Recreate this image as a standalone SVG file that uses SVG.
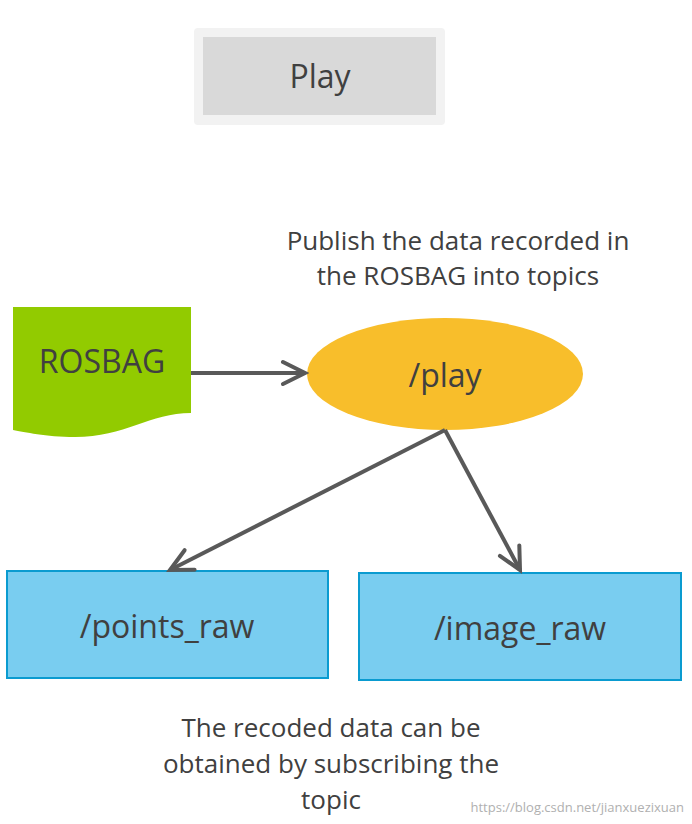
<svg xmlns="http://www.w3.org/2000/svg" width="692" height="824" viewBox="0 0 692 824">
<style>
text{font-family:"Open Sans","Noto Sans","Liberation Sans",sans-serif;fill:#404040}
.lbl{font-size:32px;text-anchor:middle}
.note{font-size:26px;text-anchor:middle}
.box{fill:#79cdf0;stroke:#0a9bd0;stroke-width:2}
.conn{stroke:#595959;stroke-width:4;fill:none}
</style>
<defs>
<marker id="arr" markerWidth="12" markerHeight="12" refX="10" refY="6" orient="auto" markerUnits="userSpaceOnUse" viewBox="0 0 12 12">
<path d="M1,1 L10,6 L1,11" fill="none" stroke="#595959" stroke-width="2.5" stroke-linecap="round"/>
</marker>
<marker id="arr2" markerWidth="30" markerHeight="30" refX="26" refY="15" orient="auto" markerUnits="userSpaceOnUse" viewBox="0 0 30 30">
<path d="M4,4 L26,15 L4,26" fill="none" stroke="#595959" stroke-width="4" stroke-linecap="round"/>
</marker>
</defs>
<rect width="692" height="824" fill="#fff"/>
<g id="play-button">
<rect x="194" y="28" width="251" height="97" rx="4" fill="#f2f2f2"/>
<rect x="203" y="37" width="233" height="78" fill="#d9d9d9"/>
<text class="lbl" x="320" y="88" font-size="32">Play</text>
</g>
<g id="note-top">
<text class="note" x="458" y="250">Publish the data recorded in</text>
<text class="note" x="458" y="285">the ROSBAG into topics</text>
</g>
<g id="rosbag">
<path d="M13,307 H191 V413 C150,413 125,437 75,437 C45,437 25,432 13,430 Z" fill="#92cb00"/>
<text class="lbl" x="102" y="373">ROSBAG</text>
</g>
<g id="play-node">
<ellipse cx="445" cy="374" rx="138" ry="56" fill="#f8be2b"/>
<text class="lbl" x="445" y="387">/play</text>
</g>
<g id="points-raw">
<rect class="box" x="7" y="571" width="321" height="107"/>
<text class="lbl" x="167" y="638">/points_raw</text>
</g>
<g id="image-raw">
<rect class="box" x="359" y="573" width="322" height="107"/>
<text class="lbl" x="520" y="640">/image_raw</text>
</g>
<g id="connectors">
<line class="conn" x1="191" y1="373" x2="305" y2="373" marker-end="url(#arr2)"/>
<line class="conn" x1="445" y1="430" x2="170" y2="570" marker-end="url(#arr2)"/>
<line class="conn" x1="445" y1="430" x2="520" y2="570" marker-end="url(#arr2)"/>
</g>
<g id="note-bottom">
<text class="note" x="331" y="737">The recoded data can be</text>
<text class="note" x="331" y="773">obtained by subscribing the</text>
<text class="note" x="331" y="809">topic</text>
</g>
<text x="684" y="812" font-size="13" text-anchor="end" style="fill:#b0b0b0">https://blog.csdn.net/jianxuezixuan</text>
</svg>
